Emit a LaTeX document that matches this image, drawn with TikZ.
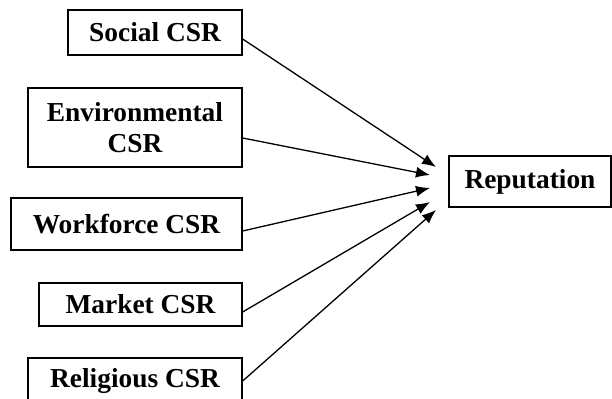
\documentclass[tikz,border=0pt]{standalone}
\usepackage{fontspec}
\setmainfont{Liberation Serif}
\usetikzlibrary{arrows.meta, positioning}

\tikzset{
  csrbox/.style={draw, line width=0.65pt, inner sep=0pt, align=center,
    font=\fontsize{13.7}{15.5}\selectfont\bfseries},
  link/.style={-{Latex[length=7pt,width=5.5pt]}, line width=0.65pt}
}

\begin{document}
\begin{tikzpicture}[x=0.5pt, y=-0.5pt]
          \useasboundingbox (0,0) rectangle (612,398);
          % CSR dimensions
          \node[csrbox, minimum width=87pt, minimum height=22.5pt] (soc) at (155,32.5) {Social CSR};
          \node[csrbox, minimum width=107pt, minimum height=39.5pt] (env) at (135,127.5) {Environmental\\CSR};
          \node[csrbox, minimum width=115.5pt, minimum height=26pt] (work) at (126.5,224) {Workforce CSR};
          \node[csrbox, minimum width=101.5pt, minimum height=21.5pt] (mkt) at (140.5,304.5) {Market CSR};
          \node[csrbox, minimum width=107pt, minimum height=23pt] (rel) at (135,381) {Religious CSR};

          % outcome
          \node[csrbox, minimum width=81pt, minimum height=25.5pt] (rep) at (530,181.5) {Reputation};

          % arrow tips in front of the outcome box
          \coordinate (t1) at (436,167);
          \coordinate (t2) at (430,175);
          \coordinate (t3) at (430,188);
          \coordinate (t4) at (430,202);
          \coordinate (t5) at (436,210);

          \draw[link] ([yshift=-3.25pt]soc.east) -- (t1);
          \draw[link] ([yshift=-5.25pt]env.east) -- (t2);
          \draw[link] ([yshift=-3.5pt]work.east) -- (t3);
          \draw[link] ([yshift=-3.75pt]mkt.east) -- (t4);
          \draw[link] (rel.east) -- (t5);
      \end{tikzpicture}
\end{document}
